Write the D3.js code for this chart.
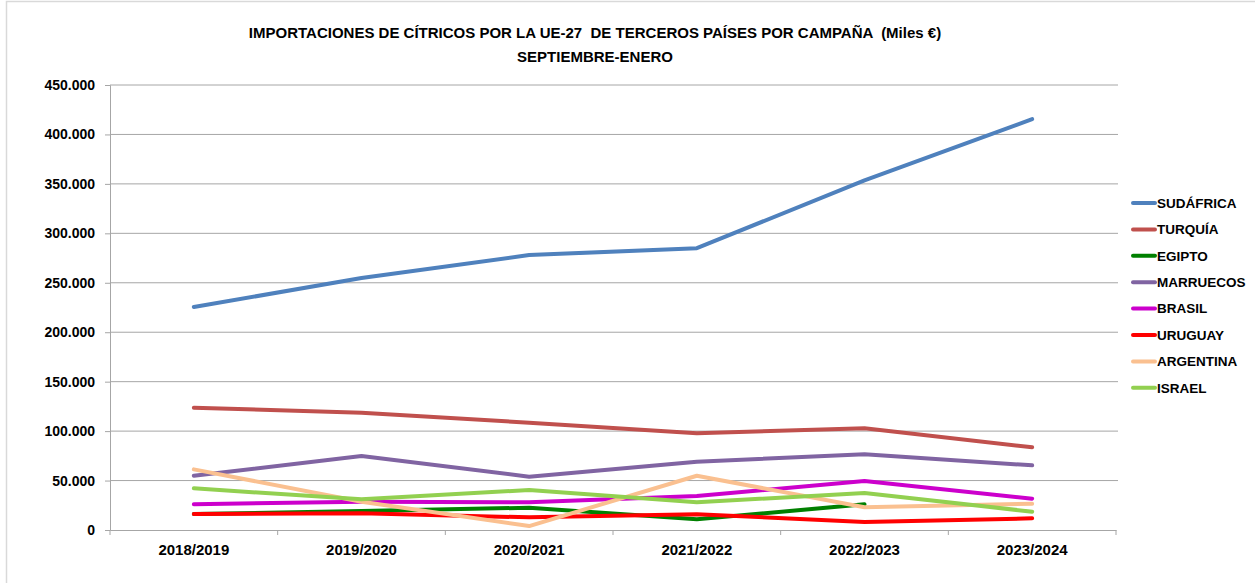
<!DOCTYPE html>
<meta charset="utf-8">
<title>Importaciones de cítricos UE-27</title>
<head>
  <script src="https://d3js.org/d3.v7.min.js"></script>
  <style>
    body { margin: 0; background: #fff; }
    text { font-family: "Liberation Sans", Arial, sans-serif; font-weight: bold; fill: #000; }
  </style>
</head>
<body>
  <div id="chart"></div>
</body>

<script>
    // campañas (eje X)
    var campaigns = ["2018/2019", "2019/2020", "2020/2021", "2021/2022", "2022/2023", "2023/2024"];

    // miles de euros
    var sudafrica = [225500, 254800, 278000, 285000, 353500, 415500];
    var turquia   = [123600, 118600, 108500, 97800, 102800, 83600];
    var egipto    = [16200, 19200, 22500, 10800, 26000, null];
    var marruecos = [54900, 74800, 53900, 69100, 76500, 65400];
    var brasil    = [26000, 28600, 28000, 34400, 49500, 31700];
    var uruguay   = [16200, 16900, 12800, 15900, 8100, 11800];
    var argentina = [61300, 28600, 4000, 54900, 23000, 26600];
    var israel    = [42100, 31000, 40400, 28000, 37400, 18500];

    var yTicks = [0, 50000, 100000, 150000, 200000, 250000, 300000, 350000, 400000, 450000];

    var series = [
      {name: "SUDÁFRICA", values: sudafrica, color: "#4F81BD"},
      {name: "TURQUÍA",   values: turquia,   color: "#C0504D"},
      {name: "EGIPTO",    values: egipto,    color: "#008000"},
      {name: "MARRUECOS", values: marruecos, color: "#8064A2"},
      {name: "BRASIL",    values: brasil,    color: "#CC00CC"},
      {name: "URUGUAY",   values: uruguay,   color: "#FF0000"},
      {name: "ARGENTINA", values: argentina, color: "#FAC090"},
      {name: "ISRAEL",    values: israel,    color: "#92D050"}
    ];

    var W = 1255, H = 583;
    var margin = {top: 85, right: 139, bottom: 53, left: 110},
        width = W - margin.left - margin.right,
        height = H - margin.top - margin.bottom;

    var root = d3.select("#chart")
      .append("svg")
        .attr("width", W)
        .attr("height", H);

    // chart border (only left/top visible in the capture)
    root.append("path")
        .attr("d", "M6.5," + H + "V1.5H" + W)
        .attr("fill", "none")
        .attr("stroke", "#D9D9D9")
        .attr("stroke-width", 1.5);

    // title
    root.append("text")
        .attr("x", 595).attr("y", 38)
        .attr("text-anchor", "middle")
        .attr("xml:space", "preserve")
        .style("font-size", "15px")
        .text("IMPORTACIONES DE CÍTRICOS POR LA UE-27  DE TERCEROS PAÍSES POR CAMPAÑA  (Miles €)");
    root.append("text")
        .attr("x", 595).attr("y", 62)
        .attr("text-anchor", "middle")
        .style("font-size", "15px")
        .text("SEPTIEMBRE-ENERO");

    var svg = root.append("g")
        .attr("transform", "translate(" + margin.left + "," + margin.top + ")");

    var x = d3.scaleBand().domain(campaigns).range([0, width]);
    var y = d3.scaleLinear().domain([0, 450000]).range([height, 0]);

    var fmt = function(v) { return d3.format(",")(v).replace(/,/g, "."); };

    // gridlines
    svg.append("g")
      .selectAll("line")
      .data(yTicks.slice(1))
      .enter().append("line")
        .attr("x1", 0).attr("x2", width + 2)
        .attr("y1", function(d) { return y(d); })
        .attr("y2", function(d) { return y(d); })
        .attr("stroke", "#A6A6A6")
        .attr("stroke-width", 1);

    // y axis
    var yAxis = svg.append("g")
        .call(d3.axisLeft(y).tickValues(yTicks).tickFormat(fmt).tickSize(5).tickPadding(10));
    yAxis.select(".domain").attr("stroke", "#A6A6A6");
    yAxis.selectAll(".tick line").attr("stroke", "#A6A6A6");
    yAxis.selectAll("text").style("font-size", "14px").attr("fill", "#000");

    // x axis
    var xAxis = svg.append("g")
        .attr("transform", "translate(0," + height + ")")
        .call(d3.axisBottom(x).tickSize(0).tickPadding(14));
    xAxis.select(".domain").attr("stroke", "#A6A6A6");
    xAxis.selectAll("text").style("font-size", "15px").attr("fill", "#000");
    xAxis.selectAll(".bound")
      .data(campaigns.concat([null]))
      .enter().append("line")
        .attr("class", "bound")
        .attr("x1", function(d, i) { return i * x.bandwidth(); })
        .attr("x2", function(d, i) { return i * x.bandwidth(); })
        .attr("y1", 0).attr("y2", 5)
        .attr("stroke", "#A6A6A6");

    // lines
    var line = d3.line()
        .defined(function(d) { return d != null; })
        .x(function(d, i) { return x(campaigns[i]) + x.bandwidth() / 2; })
        .y(function(d) { return y(d); });

    svg.selectAll(".serie")
      .data(series)
      .enter().append("path")
        .attr("class", "serie")
        .attr("fill", "none")
        .attr("stroke", function(d) { return d.color; })
        .attr("stroke-width", 4)
        .attr("stroke-linejoin", "round")
        .attr("stroke-linecap", "round")
        .attr("d", function(d) { return line(d.values); });

    // legend
    var legend = root.append("g")
        .attr("transform", "translate(1133,203)");
    var item = legend.selectAll(".item")
      .data(series)
      .enter().append("g")
        .attr("transform", function(d, i) { return "translate(0," + (i * 26.4) + ")"; });
    item.append("line")
        .attr("x1", 0).attr("x2", 22)
        .attr("stroke", function(d) { return d.color; })
        .attr("stroke-width", 4)
        .attr("stroke-linecap", "round");
    item.append("text")
        .attr("x", 24).attr("dy", "0.35em")
        .style("font-size", "13.5px")
        .text(function(d) { return d.name; });
</script>
